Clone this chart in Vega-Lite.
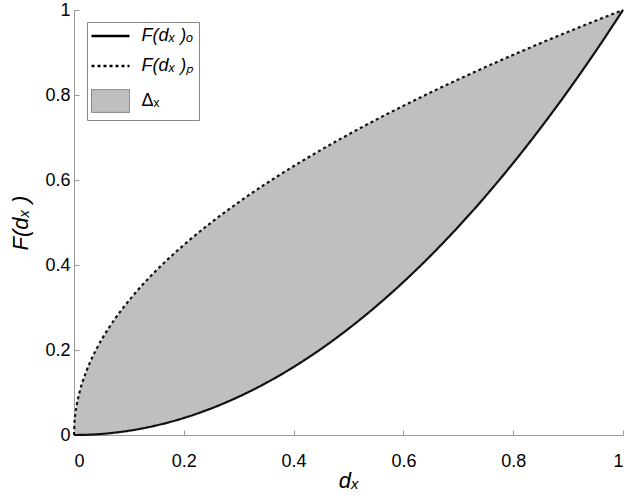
{
  "$schema": "https://vega.github.io/schema/vega-lite/v6.json",
  "width": 549,
  "height": 425,
  "autosize": {"type": "none"},
  "padding": {"left": 74, "top": 10, "right": 6, "bottom": 68},
  "background": "white",
  "config": {
    "view": {"stroke": null},
    "font": "Liberation Sans",
    "axis": {
      "grid": false,
      "domainColor": "#999999",
      "tickColor": "#999999",
      "tickSize": -5,
      "labelFont": "Liberation Sans",
      "labelFontSize": 18,
      "labelColor": "black",
      "labelFontWeight": "normal",
      "titleFont": "Liberation Sans",
      "titleFontSize": 22,
      "titleFontStyle": "italic",
      "titleFontWeight": "normal",
      "titleColor": "black"
    }
  },
  "data": {
    "values": [
      {"d": 0, "o": 0, "p": 0},
      {"d": 0.001, "o": 0, "p": 0.032},
      {"d": 0.0025, "o": 0, "p": 0.05},
      {"d": 0.005, "o": 0, "p": 0.071},
      {"d": 0.01, "o": 0.0001, "p": 0.1},
      {"d": 0.0225, "o": 0.0005, "p": 0.15},
      {"d": 0.04, "o": 0.0016, "p": 0.2},
      {"d": 0.0625, "o": 0.0039, "p": 0.25},
      {"d": 0.09, "o": 0.0081, "p": 0.3},
      {"d": 0.1225, "o": 0.015, "p": 0.35},
      {"d": 0.16, "o": 0.0256, "p": 0.4},
      {"d": 0.2025, "o": 0.041, "p": 0.45},
      {"d": 0.25, "o": 0.0625, "p": 0.5},
      {"d": 0.3025, "o": 0.0915, "p": 0.55},
      {"d": 0.36, "o": 0.1296, "p": 0.6},
      {"d": 0.4225, "o": 0.1785, "p": 0.65},
      {"d": 0.49, "o": 0.2401, "p": 0.7},
      {"d": 0.5625, "o": 0.3164, "p": 0.75},
      {"d": 0.64, "o": 0.4096, "p": 0.8},
      {"d": 0.7225, "o": 0.522, "p": 0.85},
      {"d": 0.81, "o": 0.6561, "p": 0.9},
      {"d": 0.86, "o": 0.7396, "p": 0.9274},
      {"d": 0.9025, "o": 0.8145, "p": 0.95},
      {"d": 0.95, "o": 0.9025, "p": 0.9747},
      {"d": 1, "o": 1, "p": 1}
    ]
  },
  "encoding": {
    "x": {
      "field": "d",
      "type": "quantitative",
      "scale": {"domain": [0, 1], "nice": false, "zero": false},
      "axis": {"title": "dₓ", "values": [0, 0.2, 0.4, 0.6, 0.8, 1], "format": "~g", "labelPadding": 22, "titlePadding": 0}
    }
  },
  "layer": [
    {
      "mark": {"type": "area", "interpolate": "monotone", "fill": "#bfbfbf", "fillOpacity": 1},
      "encoding": {
        "y": {
          "field": "o",
          "type": "quantitative",
          "scale": {"domain": [0, 1], "nice": false},
          "axis": {"title": "F(dₓ )", "values": [0, 0.2, 0.4, 0.6, 0.8, 1], "format": "~g", "labelPadding": 9, "titlePadding": 12}
        },
        "y2": {"field": "p"},
        "strokeDash": {"datum": "Δ"}
      }
    },
    {
      "transform": [{"fold": ["o", "p"], "as": ["key", "value"]}],
      "mark": {"type": "line", "interpolate": "monotone", "color": "#111111", "strokeWidth": 2.2},
      "encoding": {
        "y": {"field": "value", "type": "quantitative"},
        "detail": {"field": "key"},
        "strokeDash": {
          "field": "key",
          "type": "nominal",
          "scale": {"domain": ["o", "p", "Δ"], "range": [[1, 0], [3, 3], [1, 0]]},
          "legend": {
            "title": null,
            "orient": "none",
            "legendX": 13,
            "legendY": 12,
            "padding": 5,
            "strokeColor": "#888888",
            "fillColor": "white",
            "symbolType": "M-2,0H2",
            "symbolSize": 361,
            "symbolOffset": 9.5,
            "labelOffset": 22,
            "labelFontSize": 18,
            "labelFont": "Liberation Sans",
            "labelColor": "black",
            "rowPadding": 12,
            "symbolStrokeWidth": 2.5,
            "symbolStrokeColor": "black",
            "labelExpr": "datum.value === 'o' ? 'F(dₓ )ₒ' : datum.value === 'p' ? 'F(dₓ )ₚ' : 'Δₓ'",
            "encode": {
              "symbols": {
                "update": {
                  "shape": {"signal": "datum.value === 'Δ' ? 'M-2,-1.2H2V1.2H-2Z' : 'M-2,0H2'"},
                  "fill": {"signal": "datum.value === 'Δ' ? '#bfbfbf' : 'transparent'"},
                  "stroke": {"signal": "datum.value === 'Δ' ? '#777777' : 'black'"},
                  "strokeWidth": {"signal": "datum.value === 'Δ' ? 1 : 2.5"},
                  "opacity": {"value": 1}
                }
              },
              "labels": {
                "update": {
                  "fontStyle": {"signal": "datum.value === 'Δ' ? 'normal' : 'italic'"}
                }
              }
            }
          }
        }
      }
    }
  ]
}
